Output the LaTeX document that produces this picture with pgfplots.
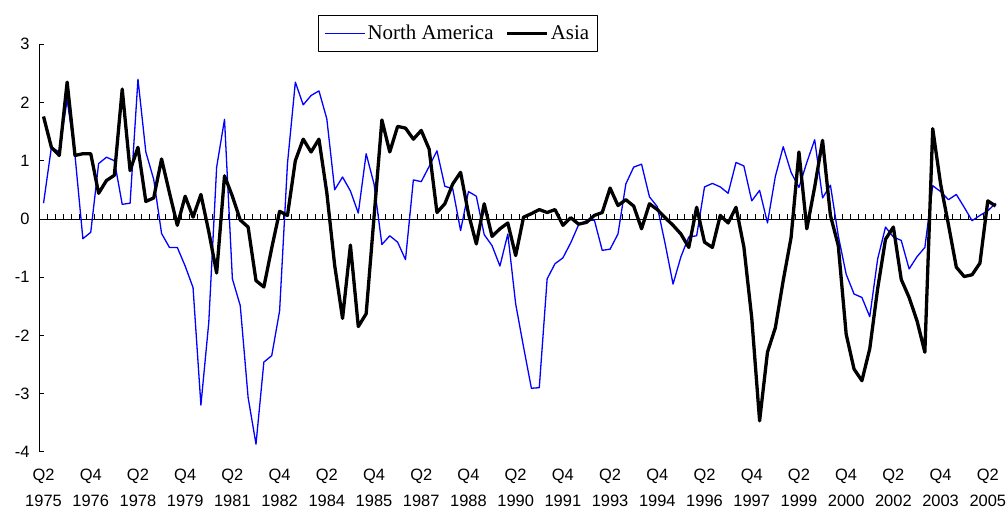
\documentclass[border=0pt]{standalone}
\usepackage{pgfplots}
\pgfplotsset{compat=1.18}
\usepackage{pgfplotstable}
\usepackage{fontspec}
\setmainfont{Liberation Serif}
\newfontfamily\arialfont{Liberation Sans}

\pgfplotstableread{
i na asia
0 0.27 1.76
1 1.23 1.23
2 1.15 1.09
3 2.05 2.35
4 1.09 1.09
5 -0.34 1.12
6 -0.23 1.12
7 0.95 0.44
8 1.06 0.66
9 1.00 0.75
10 0.25 2.23
11 0.27 0.83
12 2.40 1.23
13 1.15 0.30
14 0.68 0.36
15 -0.25 1.03
16 -0.49 0.45
17 -0.49 -0.11
18 -0.81 0.39
19 -1.18 0.03
20 -3.20 0.42
21 -1.78 -0.22
22 0.89 -0.93
23 1.71 0.74
24 -1.03 0.39
25 -1.49 -0.02
26 -3.07 -0.14
27 -3.87 -1.06
28 -2.46 -1.17
29 -2.35 -0.50
30 -1.58 0.13
31 0.95 0.06
32 2.35 1.00
33 1.96 1.37
34 2.12 1.15
35 2.20 1.37
36 1.72 0.45
37 0.50 -0.80
38 0.72 -1.71
39 0.48 -0.45
40 0.10 -1.85
41 1.12 -1.63
42 0.60 0.03
43 -0.44 1.70
44 -0.29 1.15
45 -0.40 1.59
46 -0.70 1.56
47 0.67 1.37
48 0.64 1.52
49 0.90 1.20
50 1.17 0.11
51 0.56 0.26
52 0.52 0.60
53 -0.20 0.80
54 0.47 0.09
55 0.39 -0.43
56 -0.27 0.26
57 -0.46 -0.30
58 -0.81 -0.17
59 -0.26 -0.07
60 -1.46 -0.63
61 -2.20 0.03
62 -2.91 0.09
63 -2.90 0.16
64 -1.03 0.11
65 -0.77 0.16
66 -0.67 -0.11
67 -0.41 0.02
68 -0.10 -0.09
69 -0.03 -0.06
70 -0.02 0.06
71 -0.54 0.11
72 -0.52 0.53
73 -0.26 0.23
74 0.60 0.33
75 0.89 0.22
76 0.94 -0.17
77 0.38 0.26
78 0.21 0.16
79 -0.43 0.02
80 -1.12 -0.11
81 -0.65 -0.26
82 -0.31 -0.49
83 -0.29 0.20
84 0.55 -0.40
85 0.61 -0.49
86 0.55 0.06
87 0.44 -0.07
88 0.97 0.20
89 0.91 -0.48
90 0.31 -1.70
91 0.49 -3.47
92 -0.07 -2.29
93 0.73 -1.87
94 1.24 -1.06
95 0.80 -0.32
96 0.54 1.15
97 0.97 -0.17
98 1.36 0.55
99 0.36 1.35
100 0.58 0.06
101 -0.29 -0.46
102 -0.95 -1.98
103 -1.29 -2.58
104 -1.35 -2.78
105 -1.68 -2.23
106 -0.69 -1.20
107 -0.14 -0.35
108 -0.31 -0.14
109 -0.37 -1.04
110 -0.86 -1.35
111 -0.65 -1.75
112 -0.49 -2.29
113 0.57 1.55
114 0.47 0.60
115 0.33 -0.10
116 0.42 -0.83
117 0.20 -0.99
118 -0.03 -0.96
119 0.06 -0.76
120 0.14 0.31
121 0.27 0.22
}\datatable

\begin{document}
\begin{tikzpicture}
\path[use as bounding box] (-39.6bp,-57.3bp) rectangle (967.4bp,451.7bp);
% tick labels of the category axis, at the bottom
\begin{axis}[
  at={(0,0)}, anchor=south west,
  scale only axis, width=960bp, height=407.4bp,
  xmin=-0.5, xmax=121.5, ymin=-4, ymax=3,
  axis y line=none, axis x line=bottom,
  x axis line style={draw=none},
  xtick={0,6,...,120},
  xticklabels={{Q2\\1975},{Q4\\1976},{Q2\\1978},{Q4\\1979},{Q2\\1981},{Q4\\1982},{Q2\\1984},{Q4\\1985},{Q2\\1987},{Q4\\1988},{Q2\\1990},{Q4\\1991},{Q2\\1993},{Q4\\1994},{Q2\\1996},{Q4\\1997},{Q2\\1999},{Q4\\2000},{Q2\\2002},{Q4\\2003},{Q2\\2005}},
  xtick style={draw=none}, major tick length=0pt,
  xticklabel style={font=\arialfont\fontsize{16.5}{25.4}\selectfont, align=center, yshift=-14bp},
]
\end{axis}
\begin{axis}[
  at={(0,0)}, anchor=south west,
  scale only axis, width=960bp, height=407.4bp,
  xmin=-0.5, xmax=121.5, ymin=-4, ymax=3,
  axis x line=middle, axis y line=left,
  axis line style={-, line width=0.8bp, black},
  hide obscured x ticks=false, hide obscured y ticks=false,
  xtick={-0.5,0.5,...,121.5}, xticklabels={},
  ytick={-4,-3,...,3}, yticklabels={-4,-3,-2,-1,0,1,2,3},
  tick align=inside,
  major tick length=4.5bp,
  tick style={black, line width=0.8bp},
  yticklabel style={font=\arialfont\fontsize{16.5}{20}\selectfont, xshift=-6.5bp},
  legend columns=2,
  legend style={at={(0.2898,1.0719)}, anchor=north west, draw=black, line width=0.8bp,
    font=\fontsize{21}{24}\selectfont, inner xsep=6bp, inner ysep=8bp,
    nodes={inner sep=2bp},
    /tikz/every even column/.append style={column sep=10bp}},
  legend image code/.code={\draw[#1] (0bp,0bp) -- (40bp,0bp);},
  line join=round,
]
\addplot[draw={rgb,255:red,0;green,0;blue,255}, line width=1.3bp] table[x=i, y=na] {\datatable};
\addlegendentry{North America}
\addplot[draw=black, line width=3.3bp] table[x=i, y=asia] {\datatable};
\addlegendentry{Asia}
\end{axis}
\end{tikzpicture}
\end{document}
